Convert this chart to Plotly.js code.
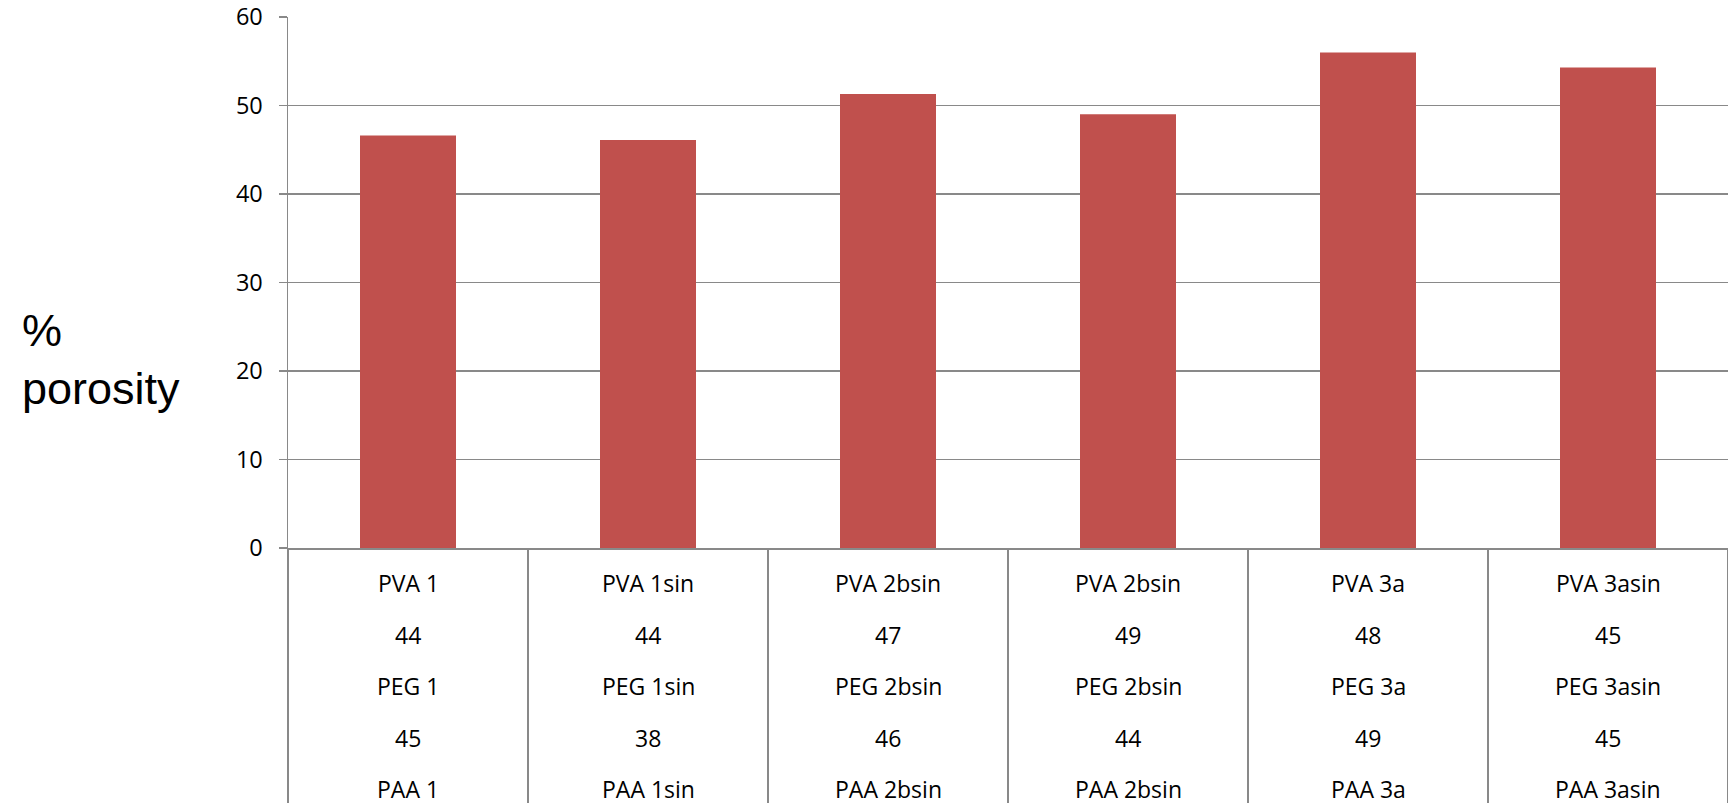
<!DOCTYPE html>
<html>
<head>
<meta charset="utf-8">
<script src="https://cdn.plot.ly/plotly-3.0.1.min.js"></script>
<style>
  html, body { margin: 0; padding: 0; background: #ffffff; }
  #chart { width: 1728px; height: 803px; }
</style>
</head>
<body>
<div id="chart"></div>
<script>
// Sample rows shown in the data table under each bar
const pvaLabels   = ["PVA 1", "PVA 1sin", "PVA 2bsin", "PVA 2bsin", "PVA 3a", "PVA 3asin"];
const pvaPorosity = ["44", "44", "47", "49", "48", "45"];
const pegLabels   = ["PEG 1", "PEG 1sin", "PEG 2bsin", "PEG 2bsin", "PEG 3a", "PEG 3asin"];
const pegPorosity = ["45", "38", "46", "44", "49", "45"];
const paaLabels   = ["PAA 1", "PAA 1sin", "PAA 2bsin", "PAA 2bsin", "PAA 3a", "PAA 3asin"];

// Bar heights (% porosity)
const porosity = [46.6, 46.1, 51.3, 49.0, 56.0, 54.3];

// Y axis ticks
const yTicks = [0, 10, 20, 30, 40, 50, 60];

// Each column gets a unique category key made of its table entries
const categories = pvaLabels.map((p, i) =>
  [p, pvaPorosity[i], pegLabels[i], pegPorosity[i], paaLabels[i]].join(" / "));

const tableRows = [pvaLabels, pvaPorosity, pegLabels, pegPorosity, paaLabels];

const GRID = "#898989";
const tableFont = { family: "Open Sans, sans-serif", size: 23, color: "#000000" };

const annotations = [];
tableRows.forEach((row, r) => {
  row.forEach((txt, i) => {
    annotations.push({
      x: categories[i], y: 0, xref: "x", yref: "y",
      text: txt, showarrow: false,
      xanchor: "center", yanchor: "middle",
      yshift: -(35 + 51.5 * r),
      font: tableFont
    });
  });
});

// Axis title, two lines
const titleFont = { family: "Liberation Sans, Arial, sans-serif", size: 45, color: "#000000" };
annotations.push({
  xref: "paper", yref: "paper", x: -268 / 1440, y: 0.409,
  text: "%", showarrow: false, xanchor: "left", yanchor: "middle", font: titleFont
});
annotations.push({
  xref: "paper", yref: "paper", x: -268 / 1440, y: 0.301,
  text: "porosity", showarrow: false, xanchor: "left", yanchor: "middle", font: titleFont
});

const trace = {
  type: "bar",
  x: categories,
  y: porosity,
  width: 0.4,
  marker: { color: "#C0504D", line: { width: 0 } },
  hoverinfo: "y"
};

const layout = {
  width: 1728,
  height: 803,
  margin: { l: 288, r: 0, t: 17, b: 255, pad: 0 },
  paper_bgcolor: "#ffffff",
  plot_bgcolor: "#ffffff",
  showlegend: false,
  bargap: 0.6,
  xaxis: {
    type: "category",
    tickson: "boundaries",
    ticks: "outside",
    ticklen: 256,
    tickwidth: 1.5,
    tickcolor: GRID,
    showticklabels: false,
    showgrid: false,
    showline: true,
    linecolor: GRID,
    linewidth: 1.5,
    zeroline: false,
    fixedrange: true
  },
  yaxis: {
    range: [0, 60],
    tickmode: "array",
    tickvals: yTicks,
    ticktext: yTicks.map(String),
    ticks: "outside",
    ticklen: 8,
    tickwidth: 1.5,
    tickcolor: GRID,
    tickfont: { family: "Open Sans, sans-serif", size: 23.5, color: "#000000" },
    ticklabelstandoff: 11,
    showgrid: true,
    gridcolor: GRID,
    gridwidth: 1.5,
    showline: true,
    linecolor: GRID,
    linewidth: 1.5,
    zeroline: false,
    fixedrange: true
  },
  annotations: annotations
};

Plotly.newPlot("chart", [trace], layout, { displayModeBar: false, staticPlot: true });
</script>
</body>
</html>
